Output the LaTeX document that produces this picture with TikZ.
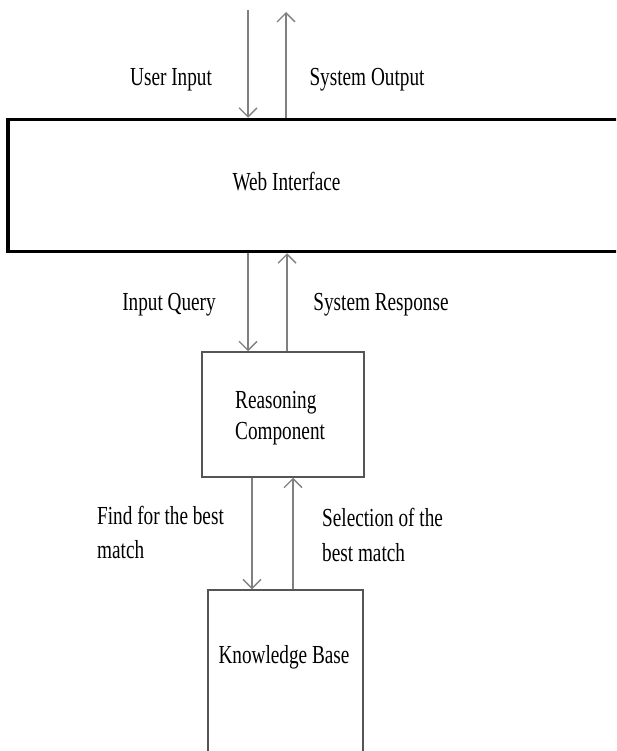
\documentclass[tikz,border=0pt]{standalone}
\usepackage{fontspec}
\setmainfont{Liberation Serif}
\usetikzlibrary{arrows.meta}
\newcommand\sqz[1]{\scalebox{0.74}[1]{#1}}
\definecolor{linegray}{RGB}{128,128,128}
\definecolor{boxgray}{RGB}{85,85,85}
\begin{document}
\begin{tikzpicture}[x=1pt,y=-1pt,
  txt/.style={inner sep=0pt,font=\fontsize{26}{32}\selectfont},
  arr/.style={draw=linegray,line width=1.5pt,-{Straight Barb[length=9pt,width=18pt,line width=1.3pt]}},
  thinbox/.style={draw=boxgray,line width=1.5pt,rectangle,inner sep=0pt},
  thickbox/.style={draw=black,line width=3.5pt,rectangle,inner sep=0pt}]
\useasboundingbox (0,0) rectangle (616,751);
\clip (0,0) rectangle (616,751);
% boxes
\node[thickbox,minimum width=692pt,minimum height=132pt] (wi) at (354,185.5) {};
\node[thinbox,minimum width=162pt,minimum height=125pt] (rc) at (283,414.5) {};
\node[thinbox,minimum width=155pt,minimum height=220pt] (kb) at (285.5,700) {};
% box texts
\node[txt,anchor=base] (wit) at (286.5,191) {\sqz{Web Interface}};
\node[txt,anchor=base west] (rct) at (235,408) {\sqz{\fontsize{26}{31}\selectfont\begin{tabular}[t]{@{}l@{}}Reasoning\\Component\end{tabular}}};
\node[txt,anchor=base] (kbt) at (284,663) {\sqz{Knowledge Base}};
% free ends
\coordinate (uin) at (248,10);
\coordinate (sout) at (286,12);
% arrows
\draw[arr] (uin) -- (uin |- wi.north);
\draw[arr] (sout |- wi.north) -- (sout);
\draw[arr] (248,0 |- wi.south) -- (248,0 |- rc.north);
\draw[arr] (287,0 |- rc.north) -- (287,0 |- wi.south);
\draw[arr] (252,0 |- rc.south) -- (252,0 |- kb.north);
\draw[arr] (293,0 |- kb.north) -- (293,0 |- rc.south);
% labels
\node[txt,anchor=base] (l1) at (171,86) {\sqz{User Input}};
\node[txt,anchor=base] (l2) at (367,86) {\sqz{System Output}};
\node[txt,anchor=base] (l3) at (169,310) {\sqz{Input Query}};
\node[txt,anchor=base] (l4) at (381,310) {\sqz{System Response}};
\node[txt,anchor=base west] (l5) at (97,524) {\sqz{\fontsize{26}{34}\selectfont\begin{tabular}[t]{@{}l@{}}Find for the best\\match\end{tabular}}};
\node[txt,anchor=base west] (l6) at (322,526) {\sqz{\fontsize{26}{35}\selectfont\begin{tabular}[t]{@{}l@{}}Selection of the\\best match\end{tabular}}};
\end{tikzpicture}
\end{document}
